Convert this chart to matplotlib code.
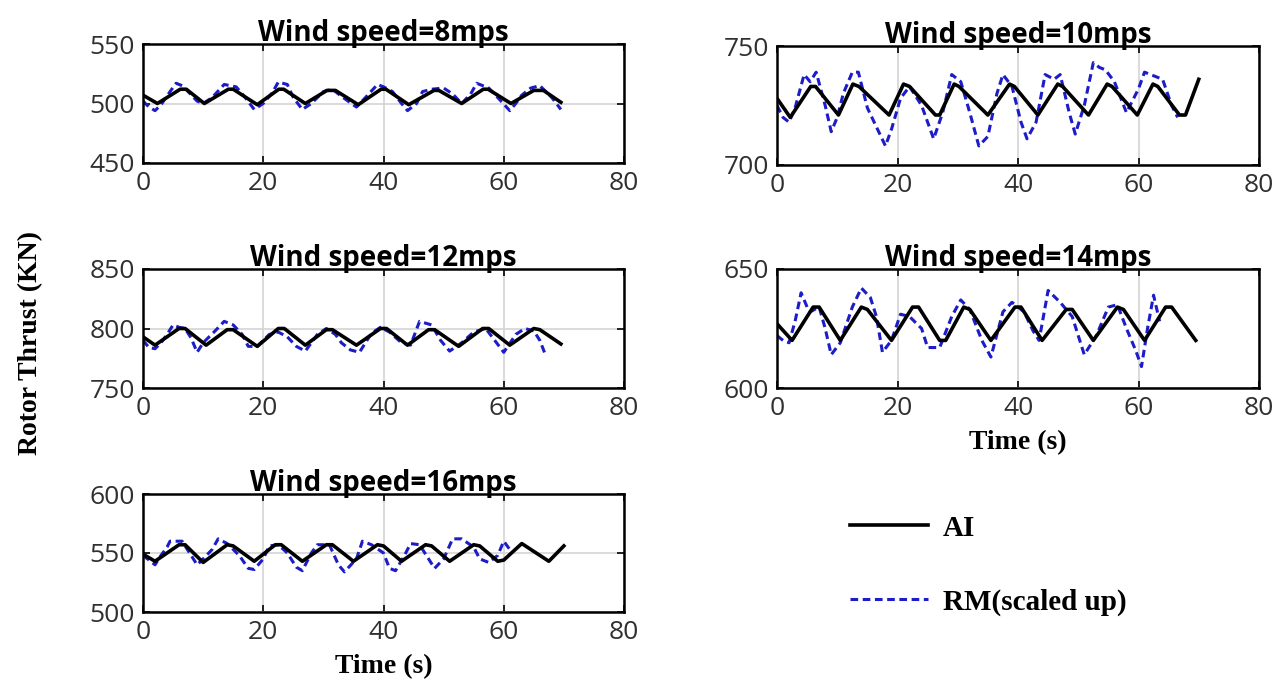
import matplotlib
matplotlib.use('Agg')
import matplotlib.pyplot as plt

plt.rcParams['font.family'] = ['Open Sans', 'DejaVu Sans']

# wind speed 8 mps
ai8_t = [0, 2.4, 6.2, 7.2, 10.2, 14.2, 15.0, 19.0, 22.6, 23.4, 27.0, 30.6, 32.0,
         35.8, 39.6, 40.4, 44.2, 48.4, 49.2, 53.0, 56.6, 57.4, 61.2, 65.0, 66.6, 69.5]
ai8 = [507, 500, 512, 512, 500, 512, 512, 499, 512, 512, 500, 511, 511,
       499, 512, 512, 499, 511, 511, 500, 512, 512, 500, 511, 511, 501]
rm8_t = [0, 1, 2, 3, 4.5, 5.5, 6.5, 7.5, 9, 10, 11.5, 13.5, 15.5, 17, 18.5, 20, 21.5,
         22.5, 24, 25, 26.5, 28, 30, 31.5, 33, 35.5, 37, 39, 40, 41.5, 43, 44, 45.5,
         46.5, 48, 50, 51.5, 53, 54.5, 55.5, 57.5, 59, 61, 62, 63, 64.5, 66, 68, 69.5]
rm8 = [502, 497, 494, 499, 510, 517, 515, 510, 502, 500, 505, 516, 514, 505, 495, 500, 509,
       518, 516, 505, 495, 500, 510, 512, 506, 497, 505, 516, 514, 510, 500, 494, 500,
       510, 512, 513, 508, 500, 508, 517, 513, 505, 494, 500, 507, 513, 515, 505, 495]

# wind speed 10 mps
ai10_t = [0, 2.2, 5.6, 6.4, 10.2, 12.6, 13.6, 18.6, 21.0, 22.0, 26.3, 27.0, 29.4, 30.2,
          35.0, 38.6, 39.4, 43.3, 46.6, 47.4, 51.7, 54.8, 55.6, 59.8, 62.4, 63.2, 66.8,
          67.8, 70]
ai10 = [728, 720, 733, 733, 721, 734, 733, 721, 734, 733, 721, 721, 734, 733,
        721, 734, 733, 721, 734, 733, 721, 734, 733, 721, 734, 733, 721,
        721, 736]
rm10_t = [0, 1, 2, 3, 4.5, 5.5, 6.5, 8, 9, 10, 11, 12.5, 13.5, 15, 16.5, 18, 19, 20.5,
          22, 24, 26, 27.5, 29, 30.5, 32, 33.5, 35, 36.5, 37.5, 39, 40.5, 41.5, 43, 44.5,
          46, 47, 48.5, 49.5, 51, 52.5, 53.5, 54.5, 56, 58, 60, 61, 62, 64, 65.5, 66.5]
rm10 = [725, 720, 718, 724, 738, 735, 739, 725, 714, 720, 730, 739, 739, 724, 716, 708, 715, 728,
        733, 725, 711, 722, 738, 735, 722, 708, 712, 730, 738, 733, 718, 711, 718, 738,
        736, 738, 722, 713, 725, 743, 741, 740, 735, 722, 732, 739, 738, 736, 725, 720]

# wind speed 12 mps
ai12_t = [0, 2, 6, 7, 10.5, 14, 15, 19, 22.5, 23.5, 27, 30.5, 31.5, 35.5, 39.5, 40.5,
          44, 47.5, 48.5, 52.5, 56.5, 57.5, 61, 65, 66, 69.5]
ai12 = [793, 786, 800, 800, 786, 799, 799, 785, 800, 800, 786, 799, 799, 786, 800, 800,
        786, 799, 799, 785, 800, 800, 786, 800, 799, 787]
rm12_t = [0, 1, 2, 3, 4, 5, 6, 7, 8, 9, 10, 12, 13.5, 15, 16.5, 17.5, 19, 21, 22.5, 24,
          25.5, 27, 29, 30.5, 32, 33, 34.5, 36, 38, 39.5, 41, 43, 44.5, 46, 48, 49.5,
          51, 53, 55, 57, 58.5, 60, 62, 63.5, 65, 66, 67]
rm12 = [790, 784, 783, 788, 795, 803, 801, 800, 792, 780, 788, 798, 806, 803, 795, 785, 785, 795, 797, 793,
        785, 781, 795, 800, 795, 788, 782, 780, 796, 801, 797, 788, 786, 806, 803, 790,
        781, 788, 797, 800, 790, 780, 795, 800, 798, 790, 777]

# wind speed 14 mps
ai14_t = [0, 2.5, 6, 7, 10.5, 14, 15, 19, 22.5, 23.5, 27, 28, 31, 32, 35.5, 39.5, 40.5,
          44, 48, 49, 52.5, 56.5, 57.5, 61, 64.5, 65.5, 69.5]
ai14 = [627, 620, 634, 634, 620, 634, 633, 620, 634, 634, 620, 620, 634, 633, 620, 634, 634,
        620, 633, 633, 620, 634, 633, 620, 634, 634, 620]
rm14_t = [0, 1, 2, 3, 4, 5, 5.5, 7, 8, 9, 10.5, 12.5, 14, 15.5, 16.5, 17.5, 19, 20.5, 22, 24,
          25, 27, 29, 30.5, 32, 34, 35.5, 37.5, 39, 41, 42.5, 43.5, 45, 47, 49, 50, 51, 53,
          55, 56.5, 58, 59.5, 60.5, 61.5, 62.5, 63.5]
rm14 = [622, 620, 619, 628, 640, 634, 632, 634, 625, 614, 619, 634, 642, 638, 630, 615, 620, 631, 630, 625,
        617, 617, 630, 637, 633, 620, 613, 632, 636, 632, 624, 620, 641, 636, 630, 622, 614, 622,
        634, 635, 625, 616, 609, 625, 639, 628]

# wind speed 16 mps
ai16_t = [0, 2, 6, 7, 10, 14, 15, 18.5, 22, 23, 26.5, 30.5, 31.5, 35, 39, 40, 43, 47, 48,
          51, 55, 56, 59, 60, 63, 67.5, 70]
ai16 = [549, 543, 557, 557, 542, 557, 556, 543, 557, 557, 543, 557, 557, 543, 557, 556, 543, 557, 556,
        543, 557, 556, 543, 544, 558, 543, 556]
rm16_t = [0, 1, 2, 3, 4, 4.5, 6.5, 8, 9, 10, 11.5, 12.5, 14, 16, 17.5, 18.5, 20, 21, 22.5, 24,
          25.5, 26.5, 28, 29, 31, 32.5, 33.5, 35.5, 36.5, 38, 40, 41, 42, 43.5, 44.5, 46,
          47.5, 48.5, 50, 51.5, 53, 55, 56, 57.5, 59, 60, 61]
rm16 = [548, 544, 540, 548, 555, 560, 560, 548, 540, 545, 553, 562, 558, 548, 537, 536, 545, 556, 557, 550,
        538, 535, 550, 557, 557, 540, 534, 545, 560, 557, 550, 537, 535, 548, 558, 557,
        545, 537, 545, 562, 562, 555, 545, 542, 548, 560, 553]

xticks = [0, 20, 40, 60, 80]

W, H = 1285, 693
fig = plt.figure(figsize=(W / 100, H / 100), dpi=100)


def box(x0, x1, y0, y1):
    return [x0 / W, 1 - y1 / H, (x1 - x0) / W, (y1 - y0) / H]


serif = {'family': 'Liberation Serif', 'weight': 'bold'}


def panel(rect, title, ai_t, ai, rm_t, rm, ylim, yticks):
    ax = fig.add_axes(rect)
    rm_line, = ax.plot(rm_t, rm, color='#1c1cc8', lw=2.2, dashes=(2.5, 1.5))
    ai_line, = ax.plot(ai_t, ai, color='black', lw=2.6)
    ax.set_xlim(0, 80)
    ax.set_ylim(*ylim)
    ax.set_xticks(xticks)
    ax.set_yticks(yticks)
    ax.grid(True, color='#d4d4d4', lw=1.2)
    ax.set_axisbelow(True)
    ax.tick_params(direction='in', length=5, width=1.2, top=True, right=True,
                   labelsize=19, labelcolor='#303030', pad=6)
    for s in ax.spines.values():
        s.set_linewidth(1.8)
    ax.set_title(title, fontsize=20, fontweight='bold', pad=2)
    return ax, ai_line, rm_line


ax1, ai_h, rm_h = panel(box(143, 624, 44, 163), 'Wind speed=8mps',
                        ai8_t, ai8, rm8_t, rm8, (450, 550), [450, 500, 550])
ax2, _, _ = panel(box(777, 1259, 46, 165), 'Wind speed=10mps',
                  ai10_t, ai10, rm10_t, rm10, (700, 750), [700, 750])
ax3, _, _ = panel(box(143, 624, 269, 388), 'Wind speed=12mps',
                  ai12_t, ai12, rm12_t, rm12, (750, 850), [750, 800, 850])
ax4, _, _ = panel(box(777, 1259, 269, 388), 'Wind speed=14mps',
                  ai14_t, ai14, rm14_t, rm14, (600, 650), [600, 650])
ax5, _, _ = panel(box(143, 624, 494, 612), 'Wind speed=16mps',
                  ai16_t, ai16, rm16_t, rm16, (500, 600), [500, 550, 600])

for ax in (ax4, ax5):
    ax.set_xlabel('Time (s)', fontdict=dict(serif, size=20), labelpad=6)

fig.text(0.024, 0.505, 'Rotor Thrust (KN)', rotation=90, ha='center', va='center',
         fontdict=dict(serif, size=20))

fig.legend([ai_h, rm_h], ['AI', 'RM(scaled up)'], loc='upper left',
           bbox_to_anchor=(835 / W, 1 - 500 / H), frameon=False, borderpad=0,
           handlelength=2.7, handletextpad=0.5, labelspacing=1.6,
           prop=dict(family='Liberation Serif', weight='bold', size=21))

fig.savefig('out.png', dpi=100)
